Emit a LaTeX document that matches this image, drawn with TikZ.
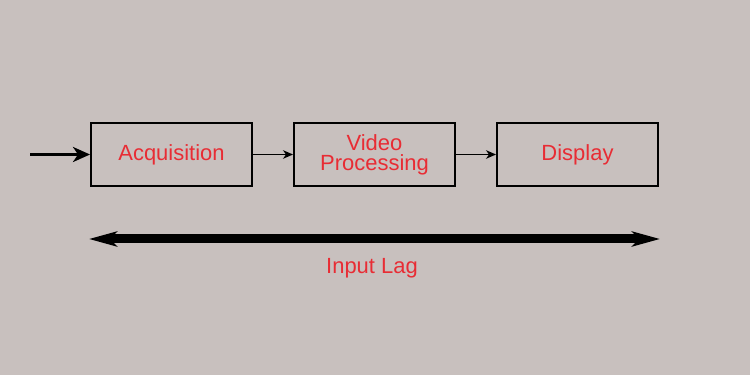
\documentclass[tikz,border=0pt]{standalone}
\usepackage{fontspec}
\setmainfont{Liberation Sans}
\usetikzlibrary{arrows.meta}
\definecolor{bgray}{RGB}{200,192,190}
\definecolor{lblred}{RGB}{232,44,52}

\begin{document}
\begin{tikzpicture}[line width=1.1pt,
  stage/.style={draw,minimum width=3.22cm,minimum height=1.26cm,inner sep=0pt,
    align=center,text=lblred,font=\fontsize{12.5}{11.5}\selectfont},
  link/.style={line width=0.9pt,-{Stealth[length=2mm,width=1.7mm,inset=0.6mm]}}]
  \fill[bgray] (0,0) rectangle (15,7.5);
  \useasboundingbox (0,0) rectangle (15,7.5);
  \node[stage] (acq) at (3.43,4.41) {Acquisition};
  \node[stage] (vid) at (7.49,4.41) {Video\\Processing};
  \node[stage] (disp) at (11.55,4.41) {Display};
  \coordinate (in) at (0.6,4.41);
  \draw[line width=1.7pt,-{Stealth[length=3.4mm,width=3mm,inset=1mm]}] (in) -- (acq);
  \draw[link] (acq) -- (vid);
  \draw[link] (vid) -- (disp);
  % lag bar
  \coordinate (lagl) at (1.78,2.72);
  \coordinate (lagr) at (13.2,2.72);
  \draw[line width=0.18cm,{Stealth[length=5.6mm,width=3mm,inset=1.5mm]}-{Stealth[length=5.6mm,width=3mm,inset=1.5mm]}] (lagl) -- (lagr);
  \node[anchor=base,text=lblred,font=\fontsize{12.5}{14}\selectfont] (lag) at (7.44,2.04) {Input Lag};
\end{tikzpicture}
\end{document}
